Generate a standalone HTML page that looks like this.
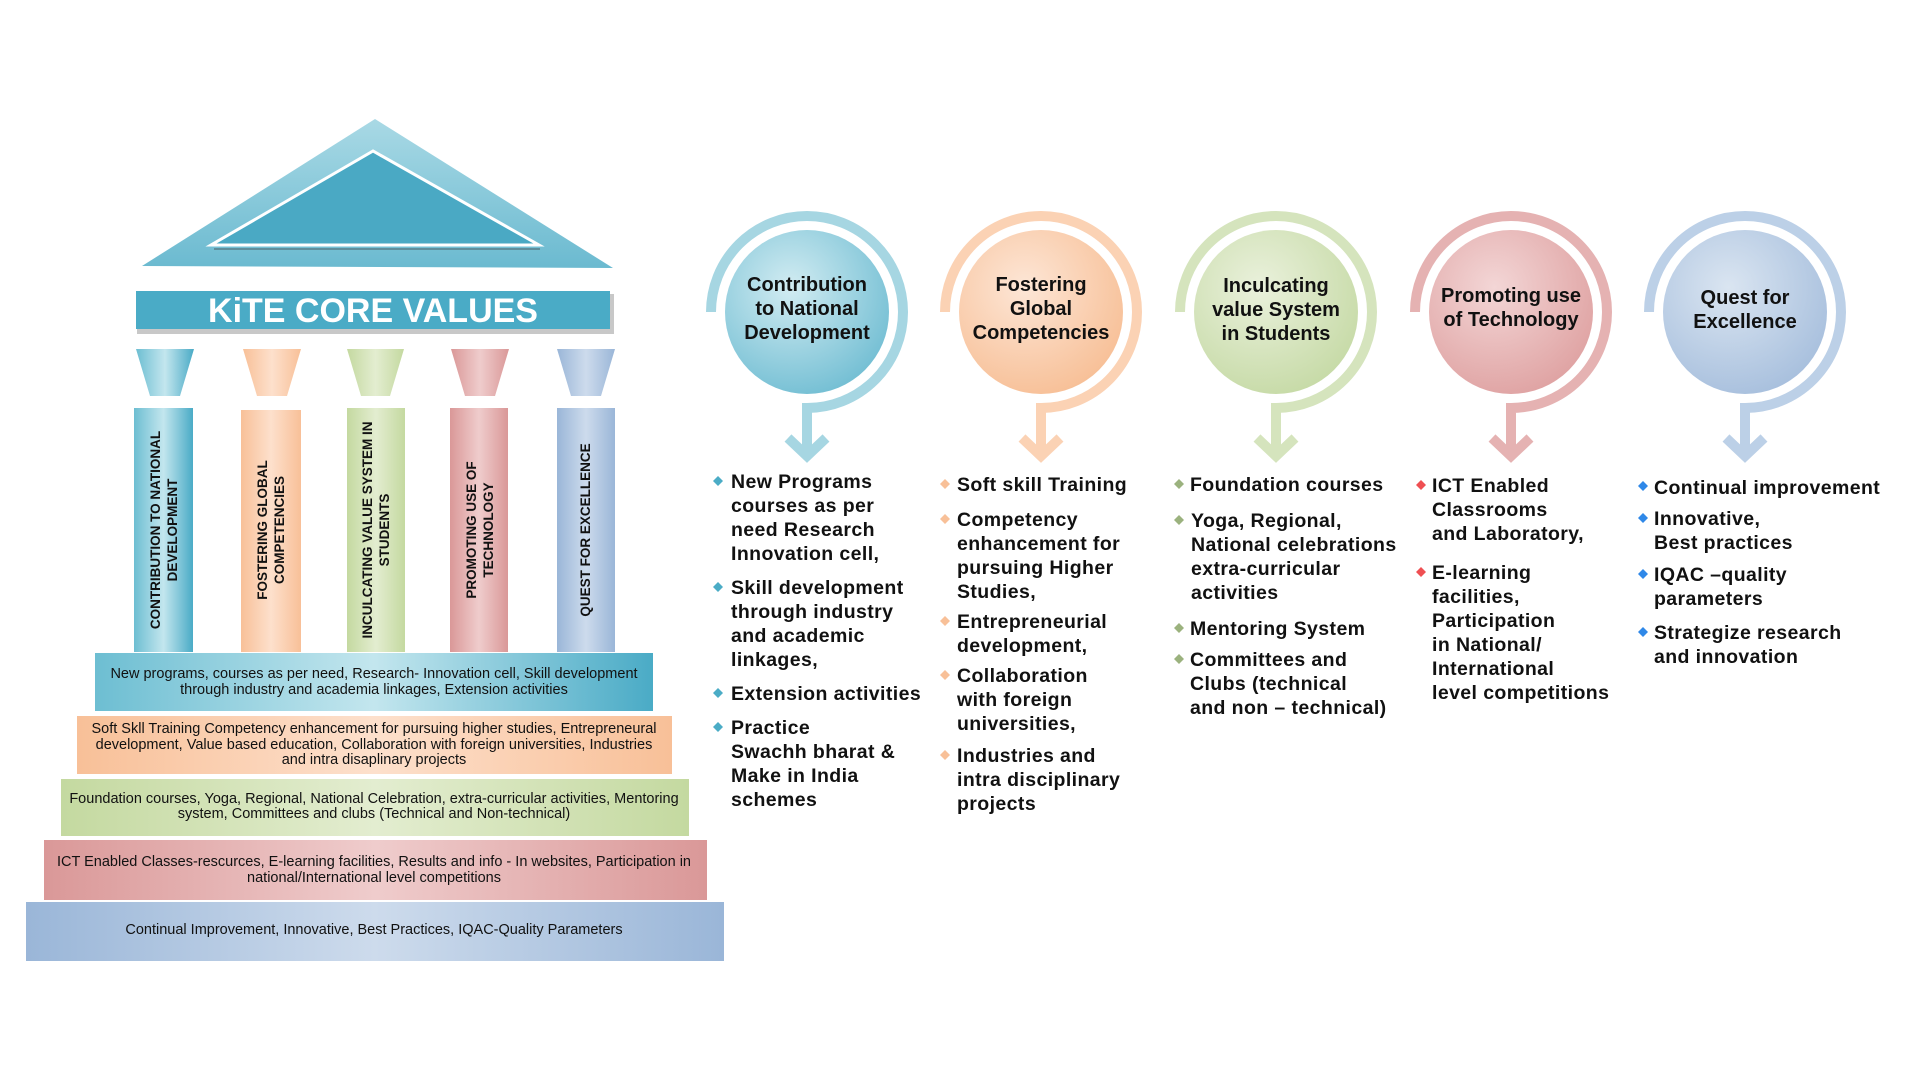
<!DOCTYPE html>
<html><head><meta charset="utf-8"><style>
html,body{margin:0;padding:0;background:#fff;}
svg{display:block;}
.c{font-family:"Liberation Sans",sans-serif;font-weight:bold;font-size:20px;fill:#111;}
.l{font-family:"Liberation Sans",sans-serif;font-weight:bold;font-size:19.5px;fill:#111;letter-spacing:0.4px;}
.s{font-family:"Liberation Sans Narrow","Liberation Sans",sans-serif;font-size:14.5px;fill:#111;}
.v{font-family:"Liberation Sans",sans-serif;font-weight:bold;font-size:13.5px;fill:#111;}
</style></head><body>
<svg width="1920" height="1080" viewBox="0 0 1920 1080" xmlns="http://www.w3.org/2000/svg">
<defs>
<linearGradient id="roof" x1="0" y1="0" x2="0" y2="1"><stop offset="0" stop-color="#a9d9e5"/><stop offset="1" stop-color="#6bbad0"/></linearGradient>
<linearGradient id="gB" x1="0" x2="1"><stop offset="0" stop-color="#6dbed2"/><stop offset="0.5" stop-color="#c3e6ee"/><stop offset="1" stop-color="#4aabc6"/></linearGradient>
<linearGradient id="gO" x1="0" x2="1"><stop offset="0" stop-color="#f8c098"/><stop offset="0.5" stop-color="#fde0cc"/><stop offset="1" stop-color="#f8c098"/></linearGradient>
<linearGradient id="gG" x1="0" x2="1"><stop offset="0" stop-color="#c4d9a0"/><stop offset="0.5" stop-color="#e3edd0"/><stop offset="1" stop-color="#c4d9a0"/></linearGradient>
<linearGradient id="gR" x1="0" x2="1"><stop offset="0" stop-color="#da9898"/><stop offset="0.5" stop-color="#efcccc"/><stop offset="1" stop-color="#da9898"/></linearGradient>
<linearGradient id="gS" x1="0" x2="1"><stop offset="0" stop-color="#9ab6d8"/><stop offset="0.5" stop-color="#cddbec"/><stop offset="1" stop-color="#9ab6d8"/></linearGradient>
<radialGradient id="cB" cx="0.4" cy="0.35" r="0.7"><stop offset="0" stop-color="#d2ecf2"/><stop offset="1" stop-color="#72bed3"/></radialGradient>
<radialGradient id="cO" cx="0.4" cy="0.35" r="0.7"><stop offset="0" stop-color="#fde6d6"/><stop offset="1" stop-color="#f7bf96"/></radialGradient>
<radialGradient id="cG" cx="0.4" cy="0.35" r="0.7"><stop offset="0" stop-color="#eaf1dc"/><stop offset="1" stop-color="#c6daa6"/></radialGradient>
<radialGradient id="cR" cx="0.4" cy="0.35" r="0.7"><stop offset="0" stop-color="#f3d6d6"/><stop offset="1" stop-color="#dfa2a2"/></radialGradient>
<radialGradient id="cS" cx="0.4" cy="0.35" r="0.7"><stop offset="0" stop-color="#dae5f1"/><stop offset="1" stop-color="#a7bfdd"/></radialGradient>
</defs>

<!-- Roof -->
<polygon points="375,119 142,266 613,268" fill="url(#roof)"/>
<polygon points="373,151 211,245 539,245" fill="#4aa9c4" stroke="#fff" stroke-width="3"/>
<line x1="214" y1="249" x2="540" y2="249" stroke="#5f8e9c" stroke-width="2"/>
<!-- banner -->
<rect x="137" y="294" width="477" height="40" fill="#c8c8c8"/>
<rect x="136" y="291" width="474" height="38" fill="#4aabc6"/>
<text x="373" y="322" text-anchor="middle" font-family="Liberation Sans,sans-serif" font-weight="bold" font-size="34" fill="#fff">KiTE CORE VALUES</text>

<!-- capitals -->
<polygon points="136,349 194,349 180,396 150,396" fill="url(#gB)"/>
<polygon points="243,349 301,349 287,396 257,396" fill="url(#gO)"/>
<polygon points="347,349 404,349 390,396 361,396" fill="url(#gG)"/>
<polygon points="451,349 509,349 495,396 465,396" fill="url(#gR)"/>
<polygon points="557,349 615,349 601,396 571,396" fill="url(#gS)"/>
<!-- columns -->
<rect x="134" y="408" width="59" height="244" fill="url(#gB)"/>
<rect x="241" y="410" width="60" height="242" fill="url(#gO)"/>
<rect x="347" y="408" width="58" height="244" fill="url(#gG)"/>
<rect x="450" y="408" width="58" height="244" fill="url(#gR)"/>
<rect x="557" y="408" width="58" height="244" fill="url(#gS)"/>
<g class="v" text-anchor="middle">
<text transform="translate(160,530) rotate(-90)">CONTRIBUTION TO NATIONAL</text>
<text transform="translate(177,530) rotate(-90)">DEVELOPMENT</text>
<text transform="translate(267,530) rotate(-90)">FOSTERING GLOBAL</text>
<text transform="translate(284,530) rotate(-90)">COMPETENCIES</text>
<text transform="translate(372,530) rotate(-90)">INCULCATING VALUE SYSTEM IN</text>
<text transform="translate(389,530) rotate(-90)">STUDENTS</text>
<text transform="translate(476,530) rotate(-90)">PROMOTING USE OF</text>
<text transform="translate(493,530) rotate(-90)">TECHNOLOGY</text>
<text transform="translate(590,530) rotate(-90)">QUEST FOR EXCELLENCE</text>
</g>

<!-- steps -->
<rect x="95" y="653" width="558" height="58" fill="url(#gB)"/>
<rect x="77" y="716" width="595" height="58" fill="url(#gO)"/>
<rect x="61" y="779" width="628" height="57" fill="url(#gG)"/>
<rect x="44" y="840" width="663" height="60" fill="url(#gR)"/>
<rect x="26" y="902" width="698" height="59" fill="url(#gS)"/>
<g class="s" text-anchor="middle">
<text x="374" y="678">New programs, courses as per need, Research- Innovation cell, Skill development</text>
<text x="374" y="694">through industry and academia linkages, Extension activities</text>
<text x="374" y="733">Soft Skll Training Competency enhancement for pursuing higher studies, Entrepreneural</text>
<text x="374" y="749">development, Value based education, Collaboration with foreign universities, Industries</text>
<text x="374" y="764">and intra disaplinary projects</text>
<text x="374" y="803">Foundation courses, Yoga, Regional, National Celebration, extra-curricular activities, Mentoring</text>
<text x="374" y="818">system, Committees and clubs (Technical and Non-technical)</text>
<text x="374" y="866">ICT Enabled Classes-rescurces, E-learning facilities, Results and info - In websites, Participation in</text>
<text x="374" y="882">national/International level competitions</text>
<text x="374" y="934">Continual Improvement, Innovative, Best Practices, IQAC-Quality Parameters</text>
</g>

<!-- circles -->
<g fill="none" stroke-width="10">
<path d="M711,312 A96,96 0 1 1 807,408 L807,452" stroke="#a6d6e2"/>
<polyline points="788,438 807,456 826,438" stroke="#a6d6e2"/>
<path d="M945,312 A96,96 0 1 1 1041,408 L1041,452" stroke="#fbd2b4"/>
<polyline points="1022,438 1041,456 1060,438" stroke="#fbd2b4"/>
<path d="M1180,312 A96,96 0 1 1 1276,408 L1276,452" stroke="#d5e4bd"/>
<polyline points="1257,438 1276,456 1295,438" stroke="#d5e4bd"/>
<path d="M1415,312 A96,96 0 1 1 1511,408 L1511,452" stroke="#e5b2b2"/>
<polyline points="1492,438 1511,456 1530,438" stroke="#e5b2b2"/>
<path d="M1649,312 A96,96 0 1 1 1745,408 L1745,452" stroke="#bcd0e7"/>
<polyline points="1726,438 1745,456 1764,438" stroke="#bcd0e7"/>
</g>
<circle cx="807" cy="312" r="82" fill="url(#cB)"/>
<circle cx="1041" cy="312" r="82" fill="url(#cO)"/>
<circle cx="1276" cy="312" r="82" fill="url(#cG)"/>
<circle cx="1511" cy="312" r="82" fill="url(#cR)"/>
<circle cx="1745" cy="312" r="82" fill="url(#cS)"/>
<g class="c" text-anchor="middle">
<text x="807" y="291">Contribution</text><text x="807" y="315">to National</text><text x="807" y="339">Development</text>
<text x="1041" y="291">Fostering</text><text x="1041" y="315">Global</text><text x="1041" y="339">Competencies</text>
<text x="1276" y="292">Inculcating</text><text x="1276" y="316">value System</text><text x="1276" y="340">in Students</text>
<text x="1511" y="302">Promoting use</text><text x="1511" y="326">of Technology</text>
<text x="1745" y="304">Quest for</text><text x="1745" y="328">Excellence</text>
</g>

<!-- bullets -->
<g>
<g fill="#4bacc6">
<polygon points="718,476 723,481 718,486 713,481"/><polygon points="718,582 723,587 718,592 713,587"/>
<polygon points="718,688 723,693 718,698 713,693"/><polygon points="718,722 723,727 718,732 713,727"/></g>
<g fill="#f8c098">
<polygon points="945,479 950,484 945,489 940,484"/><polygon points="945,514 950,519 945,524 940,519"/>
<polygon points="945,616 950,621 945,626 940,621"/><polygon points="945,670 950,675 945,680 940,675"/>
<polygon points="945,750 950,755 945,760 940,755"/></g>
<g fill="#9bb27e">
<polygon points="1179,479 1184,484 1179,489 1174,484"/><polygon points="1179,515 1184,520 1179,525 1174,520"/>
<polygon points="1179,623 1184,628 1179,633 1174,628"/><polygon points="1179,654 1184,659 1179,664 1174,659"/></g>
<g fill="#ef4f52">
<polygon points="1421,480 1426,485 1421,490 1416,485"/><polygon points="1421,567 1426,572 1421,577 1416,572"/></g>
<g fill="#2f88e8">
<polygon points="1643,481 1648,486 1643,491 1638,486"/><polygon points="1643,513 1648,518 1643,523 1638,518"/>
<polygon points="1643,569 1648,574 1643,579 1638,574"/><polygon points="1643,627 1648,632 1643,637 1638,632"/></g>
</g>

<g class="l">
<text x="731" y="488">New Programs</text><text x="731" y="512">courses as per</text><text x="731" y="536">need Research</text><text x="731" y="560">Innovation cell,</text>
<text x="731" y="594">Skill development</text><text x="731" y="618">through industry</text><text x="731" y="642">and academic</text><text x="731" y="666">linkages,</text>
<text x="731" y="700">Extension activities</text>
<text x="731" y="734">Practice</text><text x="731" y="758">Swachh bharat &amp;</text><text x="731" y="782">Make in India</text><text x="731" y="806">schemes</text>

<text x="957" y="491">Soft skill Training</text>
<text x="957" y="526">Competency</text><text x="957" y="550">enhancement for</text><text x="957" y="574">pursuing Higher</text><text x="957" y="598">Studies,</text>
<text x="957" y="628">Entrepreneurial</text><text x="957" y="652">development,</text>
<text x="957" y="682">Collaboration</text><text x="957" y="706">with foreign</text><text x="957" y="730">universities,</text>
<text x="957" y="762">Industries and</text><text x="957" y="786">intra disciplinary</text><text x="957" y="810">projects</text>

<text x="1190" y="491">Foundation courses</text>
<text x="1191" y="527">Yoga, Regional,</text><text x="1191" y="551">National celebrations</text><text x="1191" y="575">extra-curricular</text><text x="1191" y="599">activities</text>
<text x="1190" y="635">Mentoring System</text>
<text x="1190" y="666">Committees  and</text><text x="1190" y="690">Clubs (technical</text><text x="1190" y="714">and non – technical)</text>

<text x="1432" y="492">ICT Enabled</text><text x="1432" y="516">Classrooms</text><text x="1432" y="540">and Laboratory,</text>
<text x="1432" y="579">E-learning</text><text x="1432" y="603">facilities,</text><text x="1432" y="627">Participation</text><text x="1432" y="651">in National/</text><text x="1432" y="675">International</text><text x="1432" y="699">level competitions</text>

<text x="1654" y="494">Continual improvement</text>
<text x="1654" y="525">Innovative,</text><text x="1654" y="549">Best practices</text>
<text x="1654" y="581">IQAC –quality</text><text x="1654" y="605">parameters</text>
<text x="1654" y="639">Strategize research</text><text x="1654" y="663">and innovation</text>
</g>
</svg>
</body></html>
